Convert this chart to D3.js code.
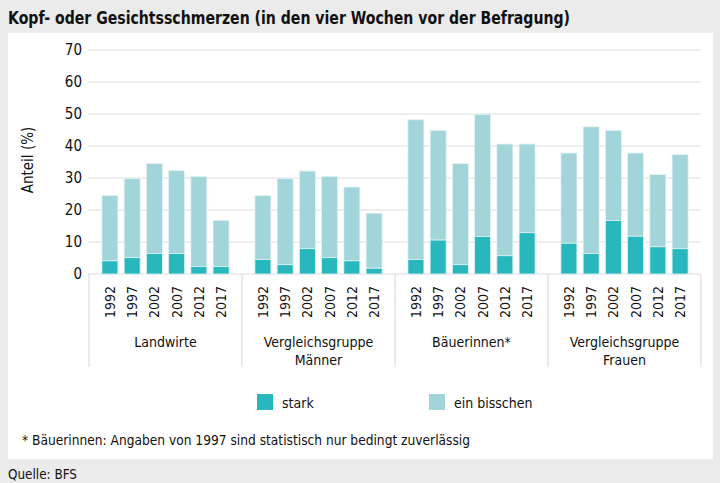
<!DOCTYPE html>
<html><head><meta charset="utf-8">
<script src="https://cdn.jsdelivr.net/npm/d3@7"></script>
<style>
html,body{margin:0;padding:0;background:#ebebeb;}
svg{display:block;}
text{font-family:"Liberation Sans Narrow","DejaVu Sans Condensed",sans-serif;fill:#111;}
</style></head><body>
<svg id="c" width="720" height="483"></svg>
<script>
const groups = ["Landwirte", "Vergleichsgruppe\nMänner", "Bäuerinnen*", "Vergleichsgruppe\nFrauen"];
const years = ["1992", "1997", "2002", "2007", "2012", "2017"];
const seriesNames = ["stark", "ein bisschen"];
// total height of bar (stark + ein bisschen), per group
const totals = [
  [24.5, 29.8, 34.5, 32.3, 30.5, 16.8],
  [24.5, 29.8, 32.2, 30.5, 27.2, 19.0],
  [48.2, 44.9, 34.5, 49.9, 40.6, 40.6],
  [37.8, 46.0, 44.9, 37.8, 31.1, 37.3]
];
const stark = [
  [4.1, 5.1, 6.4, 6.4, 2.3, 2.3],
  [4.5, 2.9, 7.9, 5.1, 4.1, 1.8],
  [4.5, 10.6, 2.9, 11.7, 5.7, 12.9],
  [9.6, 6.4, 16.7, 11.8, 8.5, 7.9]
];
const yTicks = [0, 10, 20, 30, 40, 50, 60, 70];
const title = "Kopf- oder Gesichtsschmerzen (in den vier Wochen vor der Befragung)";
const yTitle = "Anteil (%)";
const footnote = "* Bäuerinnen: Angaben von 1997 sind statistisch nur bedingt zuverlässig";
const source = "Quelle: BFS";
const colors = ["#27b7bc", "#a1d5d9"];

const svg = d3.select("#c");
// white panel
svg.append("rect").attr("x", 8).attr("y", 33).attr("width", 705).attr("height", 426).attr("fill", "#fff");

svg.append("text").attr("x", 8).attr("y", 24).style("font-size", "18px").style("font-weight", "bold")
  .attr("textLength", 562).attr("lengthAdjust", "spacingAndGlyphs")
  .text(title);

const x0 = d3.scaleBand().domain(groups).range([89, 701]).padding(0);
const x1 = d3.scaleBand().domain(years).range([0, x0.bandwidth()]).paddingInner(0.28).paddingOuter(0.58);
const y = d3.scaleLinear().domain([0, 70]).range([274, 50]);

// gridlines
svg.append("g").selectAll("line").data(yTicks).join("line")
  .attr("x1", 88).attr("x2", 701).attr("y1", d => y(d)).attr("y2", d => y(d))
  .attr("stroke", "#e8e8e8").attr("stroke-width", 1.5);

// y axis labels
const yAxis = d3.axisLeft(y).tickValues(yTicks).tickSize(0).tickPadding(0);
const ya = svg.append("g").attr("transform", "translate(82,0)").call(yAxis);
ya.select(".domain").remove();
ya.selectAll("text").style("font-size", "15px").style("font-family", "'Liberation Sans Narrow','DejaVu Sans Condensed',sans-serif").attr("fill", "#111");

svg.append("text").attr("transform", "translate(33,160) rotate(-90)").attr("text-anchor", "middle")
  .style("font-size", "15px").text(yTitle);

// bars
const data = [];
groups.forEach((g, gi) => years.forEach((yr, yi) => {
  data.push({g, yr, stark: stark[gi][yi], total: totals[gi][yi]});
}));
const bars = svg.append("g");
bars.selectAll("rect.b").data(data).join("rect").attr("class", "b")
  .attr("x", d => x0(d.g) + x1(d.yr)).attr("width", x1.bandwidth())
  .attr("y", d => y(d.total)).attr("height", d => y(d.stark) - y(d.total))
  .attr("fill", colors[1]).attr("stroke", "#e4f3f4").attr("stroke-width", 0.8);
bars.selectAll("rect.s").data(data).join("rect").attr("class", "s")
  .attr("x", d => x0(d.g) + x1(d.yr)).attr("width", x1.bandwidth())
  .attr("y", d => y(d.stark)).attr("height", d => y(0) - y(d.stark))
  .attr("fill", colors[0]).attr("stroke", "#dff1f2").attr("stroke-width", 0.8);

// category separators
const seps = groups.map(g => x0(g)).concat([x0.range()[1]]);
svg.append("g").selectAll("line").data(seps).join("line")
  .attr("x1", d => d).attr("x2", d => d).attr("y1", 274).attr("y2", 367)
  .attr("stroke", "#e3e3e3").attr("stroke-width", 1.5);

// year labels
svg.append("g").selectAll("text").data(data).join("text")
  .attr("transform", d => `translate(${x0(d.g) + x1(d.yr) + x1.bandwidth() / 2 + 5},286) rotate(-90)`)
  .attr("text-anchor", "end").style("font-size", "14px").text(d => d.yr);

// group labels
const gl = svg.append("g").selectAll("text").data(groups).join("text")
  .attr("x", d => x0(d) + x0.bandwidth() / 2).attr("y", 347).attr("text-anchor", "middle")
  .style("font-size", "14px");
gl.each(function(d) {
  const lines = d.split("\n");
  d3.select(this).selectAll("tspan").data(lines).join("tspan")
    .attr("x", x0(d) + x0.bandwidth() / 2).attr("dy", (l, i) => i === 0 ? 0 : 18).text(l => l);
});

// legend
const leg = svg.append("g");
const legX = [257, 429];
seriesNames.forEach((s, i) => {
  leg.append("rect").attr("x", legX[i]).attr("y", 394).attr("width", 16).attr("height", 16).attr("fill", colors[i]);
  leg.append("text").attr("x", legX[i] + 25).attr("y", 408).style("font-size", "14px").text(s);
});

svg.append("text").attr("x", 22).attr("y", 445).style("font-size", "14.5px")
  .attr("textLength", 448).attr("lengthAdjust", "spacingAndGlyphs").text(footnote);
svg.append("text").attr("x", 8).attr("y", 479).style("font-size", "14.5px")
  .attr("textLength", 69).attr("lengthAdjust", "spacingAndGlyphs").text(source);
</script>
</body></html>
